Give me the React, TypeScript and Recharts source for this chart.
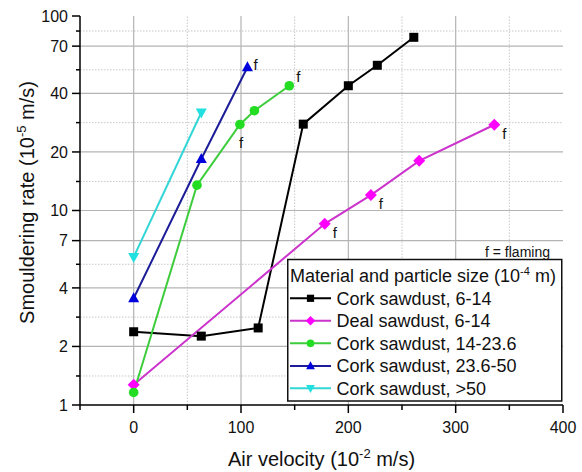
import React from 'react';
import { LineChart, Line, XAxis, YAxis, ReferenceLine, Legend, Label } from 'recharts';

// ---- data ----
const xCork614 = [0, 63, 116, 158, 200, 227, 261];
const yCork614 = [2.38, 2.26, 2.49, 27.8, 43.8, 55.8, 77.7];
const fCork614 = ['', '', '', '', '', '', ''];

const xDeal614 = [0, 178, 221, 266, 336];
const yDeal614 = [1.27, 8.54, 12.0, 18.0, 27.6];
const fDeal614 = ['', 'f', 'f', '', 'f'];

const xCork1423 = [0, 59, 99, 112.5, 145];
const yCork1423 = [1.16, 13.5, 27.7, 32.6, 43.8];
const fCork1423 = ['', '', 'f', '', 'f'];

const xCork2350 = [0, 63, 106];
const yCork2350 = [3.54, 18.4, 54.5];
const fCork2350 = ['', '', 'f'];

const xCork50 = [0, 63];
const yCork50 = [5.76, 31.9];
const fCork50 = ['', ''];

const seriesNames = [
  'Cork sawdust, 6-14',
  'Deal sawdust, 6-14',
  'Cork sawdust, 14-23.6',
  'Cork sawdust, 23.6-50',
  'Cork sawdust, >50',
];

const xMajorTicks = [0, 100, 200, 300, 400];
const xMinorTicks = [-50, 50, 150, 250, 350];
const yMajorTicks = [1, 2, 4, 7, 10, 20, 40, 70, 100];
const yMinorTicks = [1.41, 2.83, 5.29, 14.1, 28.3, 52.9, 83.7];

const legendTitle = 'Material and particle size (10';
const legendTitleSup = '-4';
const legendTitleEnd = ' m)';
const flamingNote = 'f  = flaming';

// ---- styling ----
const FONT = '"Liberation Sans", Arial, Helvetica, sans-serif';

type Shape = 'square' | 'diamond' | 'circle' | 'triUp' | 'triDown';

const build = (xs: number[], ys: number[], fs: string[]) =>
  xs.map((x, i) => ({ x, y: ys[i], f: fs[i] }));

const series = [
  { name: seriesNames[0], line: '#000000', fill: '#000000', shape: 'square' as Shape, data: build(xCork614, yCork614, fCork614), flagPos: 'e' },
  { name: seriesNames[1], line: '#cc33cc', fill: '#ff00ff', shape: 'diamond' as Shape, data: build(xDeal614, yDeal614, fDeal614), flagPos: 'se' },
  { name: seriesNames[2], line: '#3ccc3c', fill: '#22dd22', shape: 'circle' as Shape, data: build(xCork1423, yCork1423, fCork1423), flagPos: 'mixed' },
  { name: seriesNames[3], line: '#1c1c99', fill: '#0000dd', shape: 'triUp' as Shape, data: build(xCork2350, yCork2350, fCork2350), flagPos: 'ne' },
  { name: seriesNames[4], line: '#33d6d6', fill: '#22e0e0', shape: 'triDown' as Shape, data: build(xCork50, yCork50, fCork50), flagPos: 'ne' },
];

function Marker({ shape, cx, cy, fill, scale = 1 }: { shape: Shape; cx: number; cy: number; fill: string; scale?: number }) {
  const s = scale;
  switch (shape) {
    case 'square':
      return <rect x={cx - 4.5 * s} y={cy - 4.5 * s} width={9 * s} height={9 * s} fill={fill} />;
    case 'diamond':
      return (
        <polygon
          points={`${cx},${cy - 6 * s} ${cx + 6 * s},${cy} ${cx},${cy + 6 * s} ${cx - 6 * s},${cy}`}
          fill={fill}
        />
      );
    case 'circle':
      return <circle cx={cx} cy={cy} r={4.8 * s} fill={fill} />;
    case 'triUp':
      return (
        <polygon
          points={`${cx},${cy - 6 * s} ${cx + 5.5 * s},${cy + 4 * s} ${cx - 5.5 * s},${cy + 4 * s}`}
          fill={fill}
        />
      );
    case 'triDown':
    default:
      return (
        <polygon
          points={`${cx},${cy + 6 * s} ${cx + 5.5 * s},${cy - 4 * s} ${cx - 5.5 * s},${cy - 4 * s}`}
          fill={fill}
        />
      );
  }
}

function flagOffset(pos: string, index: number, total: number): [number, number] {
  if (pos === 'mixed') {
    return index === total - 1 ? [7, -4] : [-1, 24];
  }
  if (pos === 'se') return [8, 14];
  if (pos === 'ne') return [6, 3];
  return [8, 4];
}

const makeDot = (s: (typeof series)[number]) => (props: any) => {
  const { cx, cy, index, payload } = props;
  if (cx == null || cy == null) return <g key={`d-${index}`} />;
  const [dx, dy] = flagOffset(s.flagPos, index, s.data.length);
  return (
    <g key={`d-${s.name}-${index}`}>
      <Marker shape={s.shape} cx={cx} cy={cy} fill={s.fill} />
      {payload && payload.f ? (
        <text x={cx + dx} y={cy + dy} fontSize={15} fontFamily={FONT} fill="#111">
          {payload.f}
        </text>
      ) : null}
    </g>
  );
};

const XTick = (props: any) => {
  const { x, y, payload } = props;
  const v = payload.value;
  const major = xMajorTicks.includes(v);
  return (
    <g>
      <line x1={x} x2={x} y1={y} y2={y + (major ? 8 : 5)} stroke="#000" strokeWidth={1.5} />
      {major ? (
        <text x={x} y={y + 28} textAnchor="middle" fontSize={16} fontFamily={FONT} fill="#111">
          {v}
        </text>
      ) : null}
    </g>
  );
};

const YTick = (props: any) => {
  const { x, y, payload } = props;
  const v = payload.value;
  const major = yMajorTicks.includes(v);
  return (
    <g>
      <line x1={x} x2={x - (major ? 8 : 4)} y1={y} y2={y} stroke="#000" strokeWidth={1.5} />
      {major ? (
        <text x={x - 12} y={y + 5.8} textAnchor="end" fontSize={16} fontFamily={FONT} fill="#111">
          {v}
        </text>
      ) : null}
    </g>
  );
};

const YTitle = (props: any) => {
  const vb = props.viewBox || { x: 10, y: 16, width: 70, height: 389 };
  const cx = vb.x + 24;
  const cy = vb.y + vb.height / 2 - 8;
  return (
    <text
      x={cx}
      y={cy}
      transform={`rotate(-90, ${cx}, ${cy})`}
      textAnchor="middle"
      fontSize={20}
      fontFamily={FONT}
      fill="#111"
    >
      <tspan>Smouldering rate (10</tspan>
      <tspan dy={-8} fontSize={13}>-5</tspan>
      <tspan dy={8}> m/s)</tspan>
    </text>
  );
};

const XTitle = (props: any) => {
  const vb = props.viewBox || { x: 80, y: 405, width: 483, height: 60 };
  const cx = vb.x + vb.width / 2;
  const cy = vb.y + 61;
  return (
    <text x={cx} y={cy} textAnchor="middle" fontSize={20} fontFamily={FONT} fill="#111">
      <tspan>Air velocity (10</tspan>
      <tspan dy={-8} fontSize={13}>-2</tspan>
      <tspan dy={8}> m/s)</tspan>
    </text>
  );
};

const LegendBox = () => {
  const rowY = [58.3, 80.7, 103.3, 126, 148.3];
  return (
    <svg width={278} height={164} style={{ display: 'block', overflow: 'visible' }}>
      <text x={263} y={16.5} textAnchor="end" fontSize={14} fontFamily={FONT} fill="#111">
        {flamingNote}
      </text>
      <rect x={0.75} y={19.5} width={274} height={141.5} fill="#fff" stroke="#111" strokeWidth={1.5} />
      <text x={3} y={41.5} fontSize={18} fontFamily={FONT} fill="#111">
        <tspan>{legendTitle}</tspan>
        <tspan dy={-7} fontSize={11}>{legendTitleSup}</tspan>
        <tspan dy={7}>{legendTitleEnd}</tspan>
      </text>
      {series.map((s, i) => (
        <g key={s.name}>
          <line x1={3} x2={44} y1={rowY[i]} y2={rowY[i]} stroke={s.line} strokeWidth={2} />
          <Marker shape={s.shape} cx={23.5} cy={rowY[i]} fill={s.fill} scale={0.8} />
          <text x={49.5} y={rowY[i] + 6.4} fontSize={18} fontFamily={FONT} fill="#111">
            {s.name}
          </text>
        </g>
      ))}
    </svg>
  );
};

export default function App() {
  return (
    <div style={{ position: 'absolute', left: 0, top: 0, width: 582, height: 472, background: '#fff', fontFamily: FONT }}>
      <LineChart width={582} height={472} margin={{ top: 16, right: 19, bottom: 7, left: 10 }}>
        {yMinorTicks.map((v) => (
          <ReferenceLine key={`ym-${v}`} y={v} stroke="#c8c8c8" strokeDasharray="1.5 1.5" strokeWidth={1} />
        ))}
        {xMinorTicks.filter((v) => v > -50).map((v) => (
          <ReferenceLine key={`xm-${v}`} x={v} stroke="#c8c8c8" strokeDasharray="1.5 1.5" strokeWidth={1} />
        ))}
        {yMajorTicks.filter((v) => v > 1 && v < 100).map((v) => (
          <ReferenceLine key={`yM-${v}`} y={v} stroke="#b4b4b4" strokeWidth={1.2} />
        ))}
        {xMajorTicks.filter((v) => v < 400).map((v) => (
          <ReferenceLine key={`xM-${v}`} x={v} stroke="#b4b4b4" strokeWidth={1.2} />
        ))}
        <XAxis
          dataKey="x"
          type="number"
          domain={[-50, 400]}
          ticks={[...xMinorTicks, ...xMajorTicks].sort((a, b) => a - b)}
          allowDataOverflow
          height={60}
          tickSize={0}
          tickMargin={0}
          tickLine={false}
          tick={<XTick />}
          axisLine={{ stroke: '#000', strokeWidth: 1.5 }}
          interval={0}
        >
          <Label content={<XTitle />} />
        </XAxis>
        <YAxis
          dataKey="y"
          type="number"
          scale="log"
          domain={[1, 100]}
          ticks={[...yMinorTicks, ...yMajorTicks].sort((a, b) => a - b)}
          allowDataOverflow
          width={70}
          tickSize={0}
          tickMargin={0}
          tickLine={false}
          tick={<YTick />}
          axisLine={{ stroke: '#000', strokeWidth: 1.5 }}
          interval={0}
        >
          <Label content={<YTitle />} />
        </YAxis>
        {series.map((s) => (
          <Line
            key={s.name}
            name={s.name}
            data={s.data}
            dataKey="y"
            type="linear"
            stroke={s.line}
            strokeWidth={2}
            dot={makeDot(s)}
            activeDot={false}
            isAnimationActive={false}
          />
        ))}
        <Legend
          layout="horizontal"
          align="center"
          verticalAlign="middle"
          content={<LegendBox />}
          wrapperStyle={{ left: 287, top: 240, width: 278, height: 164 }}
        />
      </LineChart>
    </div>
  );
}
